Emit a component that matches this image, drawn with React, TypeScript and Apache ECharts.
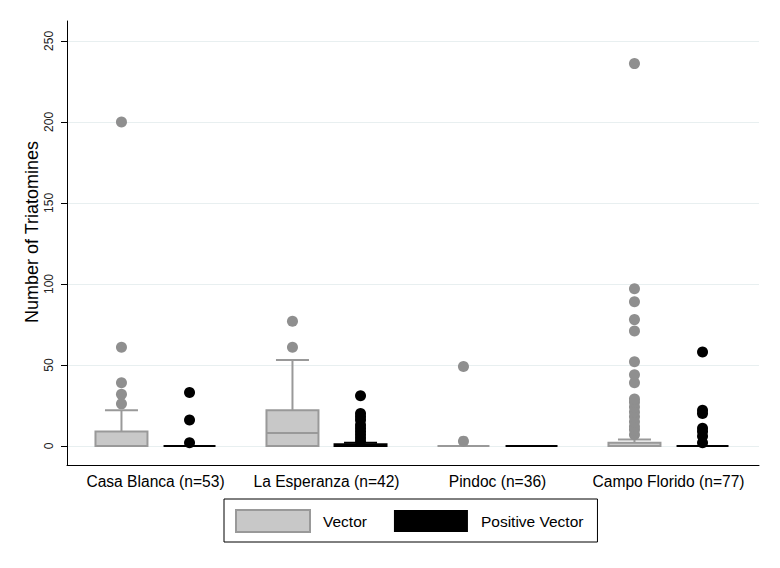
import React, { useEffect, useRef } from "react";
import * as echarts from "echarts";

const categories = [
  "Casa Blanca (n=53)",
  "La Esperanza (n=42)",
  "Pindoc (n=36)",
  "Campo Florido (n=77)",
];

// [lower adjacent, q1, median, q3, upper adjacent]
const vectorBox = [
  [0, 0, 0, 9, 22],
  [0, 0, 8, 22, 53],
  [0, 0, 0, 0, 0],
  [0, 0, 0, 2, 4],
];
const positiveBox = [
  [0, 0, 0, 0, 0],
  [0, 0, 0, 1, 2],
  [0, 0, 0, 0, 0],
  [0, 0, 0, 0, 0],
];

const vectorOutliers = [
  [26, 32, 39, 61, 200],
  [61, 77],
  [3, 49],
  [7, 10, 12, 15, 18, 21, 24, 27, 29, 39, 44, 52, 71, 78, 89, 97, 236],
];
const positiveOutliers = [
  [2, 16, 33],
  [3, 5, 7, 9, 11, 13, 16, 18, 20, 31],
  [],
  [2, 6, 9, 11, 20, 22, 58],
];

const yTicks = [0, 50, 100, 150, 200, 250];

const FONT = "'Liberation Sans', Arial, Helvetica, sans-serif";

const VEC_FILL = "#c8c8c8";
const VEC_LINE = "#999999";
const VEC_DOT = "#8f8f8f";
const POS = "#000000";

function boxRenderer(offset: number, fill: string, stroke: string) {
  return (params: any, api: any) => {
    const cat = api.value(0);
    const band = api.size([1, 0])[0];
    const cx = api.coord([cat, 0])[0] + offset * band;
    const w = band * 0.304;
    const cw = band * 0.193;
    const y = (v: number) => api.coord([cat, v])[1];
    const low = api.value(1);
    const q1 = api.value(2);
    const med = api.value(3);
    const q3 = api.value(4);
    const high = api.value(5);
    const lineStyle = { stroke, lineWidth: 2 };
    const children: any[] = [];
    if (high > q3) {
      children.push({
        type: "line",
        shape: { x1: cx, y1: y(q3), x2: cx, y2: y(high) },
        style: lineStyle,
      });
      children.push({
        type: "line",
        shape: { x1: cx - cw / 2, y1: y(high), x2: cx + cw / 2, y2: y(high) },
        style: lineStyle,
      });
    }
    if (low < q1) {
      children.push({
        type: "line",
        shape: { x1: cx, y1: y(q1), x2: cx, y2: y(low) },
        style: lineStyle,
      });
      children.push({
        type: "line",
        shape: { x1: cx - cw / 2, y1: y(low), x2: cx + cw / 2, y2: y(low) },
        style: lineStyle,
      });
    }
    if (q3 > q1) {
      children.push({
        type: "rect",
        shape: { x: cx - w / 2, y: y(q3), width: w, height: y(q1) - y(q3) },
        style: { fill, stroke, lineWidth: 2 },
      });
      children.push({
        type: "line",
        shape: { x1: cx - w / 2, y1: y(med), x2: cx + w / 2, y2: y(med) },
        style: lineStyle,
      });
    } else {
      children.push({
        type: "line",
        shape: { x1: cx - w / 2, y1: y(q1), x2: cx + w / 2, y2: y(q1) },
        style: lineStyle,
      });
    }
    return { type: "group", children };
  };
}

function dotRenderer(offset: number, color: string) {
  return (params: any, api: any) => {
    const cat = api.value(0);
    const band = api.size([1, 0])[0];
    const cx = api.coord([cat, 0])[0] + offset * band;
    const cy = api.coord([cat, api.value(1)])[1];
    return {
      type: "circle",
      shape: { cx, cy, r: 5.5 },
      style: { fill: color },
    };
  };
}

export default function App() {
  const ref = useRef<HTMLDivElement>(null);

  useEffect(() => {
    document.body.style.margin = "0";
    if (!ref.current) return;
    const chart = echarts.init(ref.current, null, { renderer: "svg" });
    const yMin = -11.73;
    const yMax = 262.3;
    const OFF = 0.199;

    chart.setOption({
      animation: false,
      backgroundColor: "#ffffff",
      textStyle: { fontFamily: FONT },
      grid: [
        { left: 67, right: 21, top: 21, bottom: 103 },
        { left: 70, width: 684, top: 21, bottom: 103 },
      ],
      xAxis: [
        {
          type: "value",
          gridIndex: 0,
          min: 0,
          max: 1,
          axisLine: { show: true, onZero: false, lineStyle: { color: "#000", width: 1 } },
          axisTick: { show: false },
          axisLabel: { show: false },
          splitLine: { show: false },
        },
        {
          type: "category",
          gridIndex: 1,
          data: categories,
          axisLine: { show: false },
          axisTick: { show: false },
          axisLabel: {
            color: "#000",
            fontSize: 15.6,
            fontFamily: FONT,
            margin: 8,
            interval: 0,
          },
          splitLine: { show: false },
        },
      ],
      yAxis: [
        {
          type: "value",
          gridIndex: 0,
          min: yMin,
          max: yMax,
          axisLine: { show: true, lineStyle: { color: "#000", width: 1 } },
          axisTick: {
            show: true,
            length: 6,
            customValues: yTicks,
            lineStyle: { color: "#000" },
          },
          axisLabel: {
            customValues: yTicks,
            rotate: 90,
            fontSize: 12,
            color: "#222",
            fontFamily: FONT,
            margin: 12,
          },
          splitLine: { show: true, lineStyle: { color: "#e8eff0", width: 1 } },
        },
        {
          type: "value",
          gridIndex: 1,
          min: yMin,
          max: yMax,
          show: false,
        },
      ],
      legend: {
        left: 224,
        top: 499,
        orient: "horizontal",
        padding: [10, 14, 9, 11],
        itemWidth: 74,
        itemHeight: 22,
        itemGap: 27,
        borderColor: "#000",
        borderWidth: 1,
        borderRadius: 0,
        selectedMode: false,
        textStyle: {
          fontSize: 15.5,
          color: "#000",
          fontFamily: FONT,
          padding: [0, 0, 0, 8],
        },
        data: [
          {
            name: "Vector",
            icon: "rect",
            itemStyle: { color: VEC_FILL, borderColor: VEC_LINE, borderWidth: 2 },
          },
          {
            name: "Positive Vector",
            icon: "rect",
            itemStyle: { color: POS, borderColor: POS, borderWidth: 0 },
          },
        ],
      },
      graphic: [
        {
          type: "text",
          x: 32,
          y: 232,
          rotation: Math.PI / 2,
          style: {
            text: "Number of Triatomines",
            fontSize: 18,
            fontFamily: FONT,
            fill: "#000",
            textAlign: "center",
            textVerticalAlign: "middle",
          },
        },
      ],
      series: [
        {
          name: "Vector",
          type: "custom",
          xAxisIndex: 1,
          yAxisIndex: 1,
          itemStyle: { color: VEC_FILL },
          encode: { x: 0, y: [1, 2, 3, 4, 5] },
          data: vectorBox.map((b, i) => [i, ...b]),
          renderItem: boxRenderer(-OFF, VEC_FILL, VEC_LINE),
          z: 2,
        },
        {
          name: "Positive Vector",
          type: "custom",
          xAxisIndex: 1,
          yAxisIndex: 1,
          itemStyle: { color: POS },
          encode: { x: 0, y: [1, 2, 3, 4, 5] },
          data: positiveBox.map((b, i) => [i, ...b]),
          renderItem: boxRenderer(OFF, POS, POS),
          z: 2,
        },
        {
          name: "Vector",
          type: "custom",
          xAxisIndex: 1,
          yAxisIndex: 1,
          itemStyle: { color: VEC_FILL },
          encode: { x: 0, y: 1 },
          data: vectorOutliers.flatMap((arr, i) => arr.map((v) => [i, v])),
          renderItem: dotRenderer(-OFF, VEC_DOT),
          z: 3,
        },
        {
          name: "Positive Vector",
          type: "custom",
          xAxisIndex: 1,
          yAxisIndex: 1,
          itemStyle: { color: POS },
          encode: { x: 0, y: 1 },
          data: positiveOutliers.flatMap((arr, i) => arr.map((v) => [i, v])),
          renderItem: dotRenderer(OFF, POS),
          z: 3,
        },
      ],
    });

    return () => chart.dispose();
  }, []);

  return <div ref={ref} style={{ width: 780, height: 568 }} />;
}
